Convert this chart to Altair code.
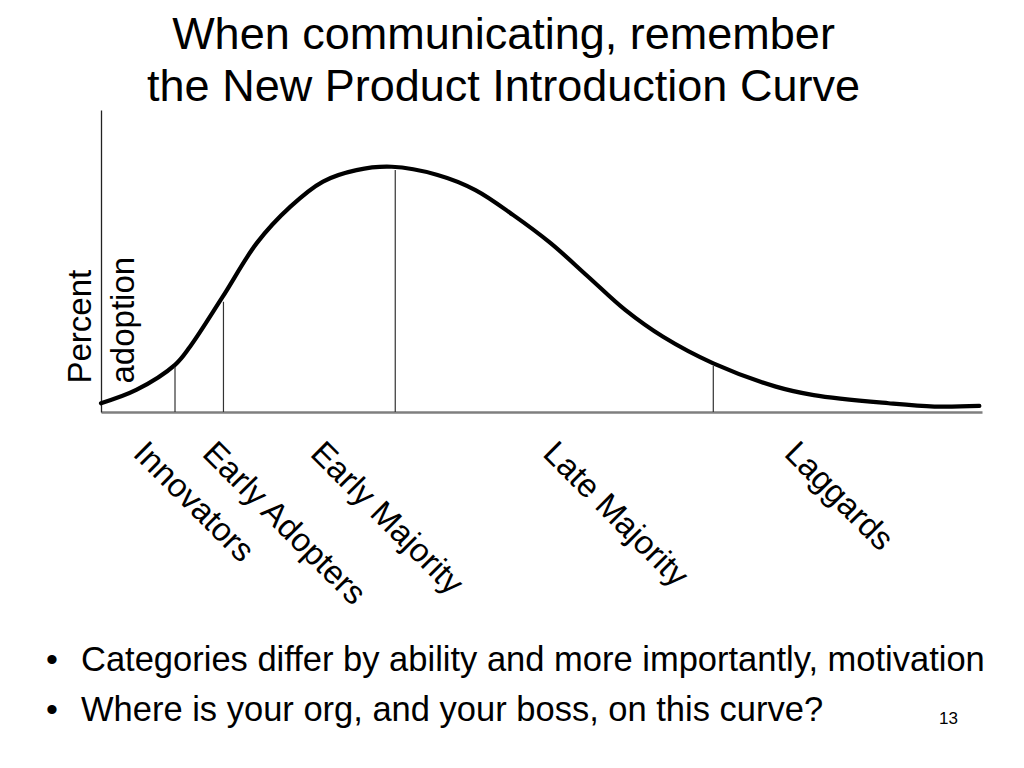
import altair as alt
import pandas as pd

# ---- data (x: time 0-100, y: percent adoption 0-100) ----
curve_x = [0, 4.0, 8.4, 10.1, 13.8, 17.7, 21.5, 25.2, 29.0, 33.0, 38.2, 42.5, 46.8,
           51.0, 55.3, 59.5, 63.8, 69.5, 76.6, 80.9, 89.4, 94.6, 99.7]
curve_y = [2.9, 7.3, 15.6, 21.6, 38.1, 56.0, 68.0, 76.3, 80.1, 81.2, 78.5, 73.5, 65.2,
           56.0, 44.8, 33.8, 24.9, 16.1, 8.4, 5.6, 2.9, 1.8, 2.0]

divider_x = [8.4, 13.9, 33.4, 69.5]
divider_top = [15.0, 36.5, 80.1, 15.2]

segments = ["Innovators", "Early Adopters", "Early Majority", "Late Majority", "Laggards"]
segment_label_x = [3.5, 11.35, 23.6, 50.0, 77.4]

title_lines = ["When communicating, remember", "the New Product Introduction Curve"]
y_title_lines = ["Percent", "adoption"]
bullets = ["Categories differ by ability and more importantly, motivation",
           "Where is your org, and your boss, on this curve?"]
page_number = "13"

FONT = "Liberation Sans"
W, H = 881, 302

xs = alt.Scale(domain=[0, 100], nice=False, zero=False)
ys = alt.Scale(domain=[0, 100], nice=False, zero=False)

x_axis = alt.Axis(title=None, labels=False, ticks=False, grid=False,
                  domainColor="#7f7f7f", domainWidth=2.5)
y_axis = alt.Axis(title=y_title_lines, labels=False, ticks=False, grid=False,
                  domainColor="#222222", domainWidth=1.3,
                  titleFont=FONT, titleFontSize=33, titleFontWeight="normal",
                  titleColor="black", titleAngle=270, titleAlign="left",
                  titleBaseline="alphabetic", titleX=-11, titleY=273,
                  titleLineHeight=43)

curve_df = pd.DataFrame({"t": curve_x, "v": curve_y})
div_df = pd.DataFrame({"t": divider_x, "v": [0] * len(divider_x), "top": divider_top})
lab_df = pd.DataFrame({"segment": segments, "t": segment_label_x})
one = pd.DataFrame({"k": [0]})

curve = alt.Chart(curve_df).mark_line(
    color="black", strokeWidth=4.2, interpolate="catmull-rom", strokeCap="round"
).encode(
    x=alt.X("t:Q", scale=xs, axis=x_axis),
    y=alt.Y("v:Q", scale=ys, axis=y_axis),
)

dividers = alt.Chart(div_df).mark_rule(color="#333333", strokeWidth=1.2).encode(
    x=alt.X("t:Q", scale=xs, axis=x_axis),
    y=alt.Y("v:Q", scale=ys, axis=y_axis),
    y2="top:Q",
)

labels = alt.Chart(lab_df).mark_text(
    angle=45, align="left", baseline="alphabetic", font=FONT, fontSize=33, color="black"
).encode(
    x=alt.X("t:Q", scale=xs, axis=x_axis),
    y=alt.value(345),
    text="segment:N",
)

bullet_text = alt.Chart(one).mark_text(
    align="left", baseline="alphabetic", font=FONT, fontSize=34.5, color="black", lineHeight=50
).encode(x=alt.value(-20), y=alt.value(561), text=alt.value(bullets))

bullet_marks = alt.Chart(one).mark_text(
    align="center", baseline="alphabetic", font=FONT, fontSize=34, color="black", lineHeight=50
).encode(x=alt.value(-49), y=alt.value(561), text=alt.value(["•", "•"]))

page = alt.Chart(one).mark_text(
    align="left", baseline="alphabetic", font=FONT, fontSize=17, color="black"
).encode(x=alt.value(838), y=alt.value(614), text=alt.value(page_number))

chart = alt.layer(curve, dividers, labels, bullet_text, bullet_marks, page).properties(
    width=W, height=H,
    title=alt.TitleParams(text=title_lines, font=FONT, fontSize=45, fontWeight="normal",
                          color="black", anchor="middle", dx=-38, dy=4, lineHeight=52),
    autosize=alt.AutoSizeParams(type="none"),
    padding={"left": 93, "top": 102, "right": 20, "bottom": 330},
).configure_view(stroke=None)

chart.save("out.html", embed_options={"renderer": "svg", "actions": False})
